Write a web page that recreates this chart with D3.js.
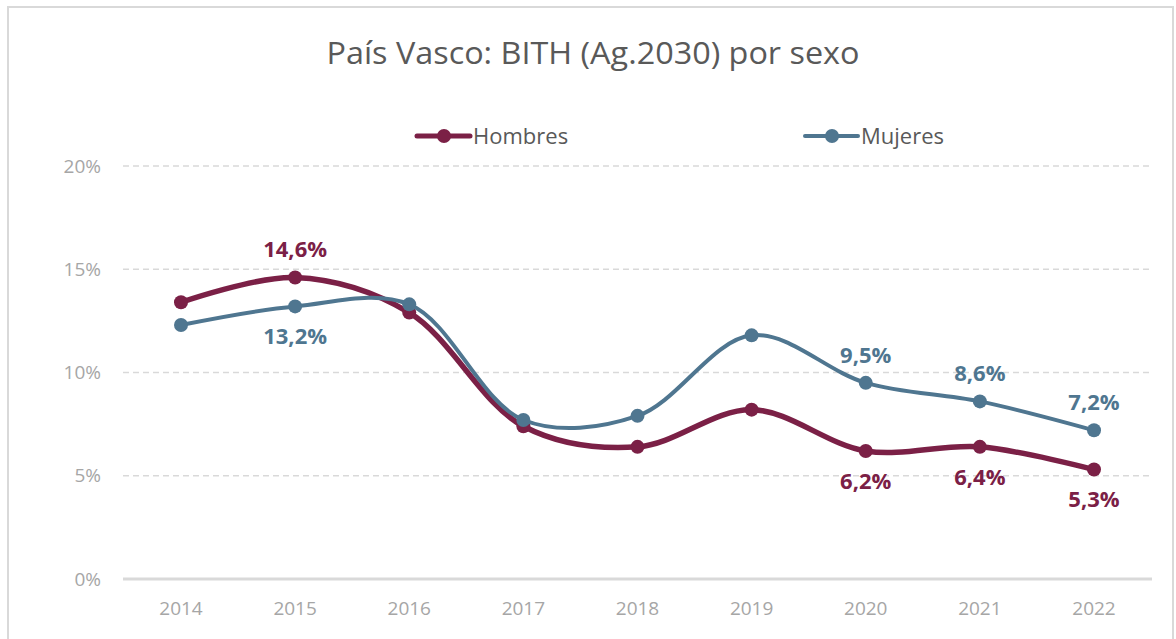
<!DOCTYPE html>
<html>
<head>
<meta charset="utf-8">
<script src="https://cdn.jsdelivr.net/npm/d3@7"></script>
<style>
  html, body { margin: 0; padding: 0; background: #fff; }
  svg { display: block; }
</style>
</head>
<body>
<script>
// datos
var years = ['2014', '2015', '2016', '2017', '2018', '2019', '2020', '2021', '2022'];
var hombres = [13.4, 14.6, 12.9, 7.4, 6.4, 8.2, 6.2, 6.4, 5.3];
var mujeres = [12.3, 13.2, 13.3, 7.7, 7.9, 11.8, 9.5, 8.6, 7.2];
var yTicks = [0, 5, 10, 15, 20];
var seriesNames = ['Hombres', 'Mujeres'];

// etiquetas visibles (indice del año, arriba / abajo)
var hombresLabels = [[1, 'up'], [6, 'down'], [7, 'down'], [8, 'down']];
var mujeresLabels = [[1, 'down'], [6, 'up'], [7, 'up'], [8, 'up']];

var W = 1176, H = 639;
var colors = { Hombres: '#7b2046', Mujeres: '#4f7690' };

var svg = d3.select(document.body).append('svg')
  .attr('width', W).attr('height', H);

// marco
svg.append('rect')
  .attr('x', 8).attr('y', 7)
  .attr('width', 1165).attr('height', 660)
  .attr('fill', 'none').attr('stroke', '#d9d9d9').attr('stroke-width', 2);

// titulo
svg.append('text')
  .attr('x', 593).attr('y', 64)
  .attr('text-anchor', 'middle')
  .style('font-family', 'Open Sans, sans-serif')
  .style('font-size', '31px')
  .attr('fill', '#595959')
  .attr('textLength', 533)
  .attr('lengthAdjust', 'spacingAndGlyphs')
  .text('País Vasco: BITH (Ag.2030) por sexo');

var x = d3.scalePoint().domain(years).range([181, 1094]);
var y = d3.scaleLinear().domain([0, 20]).range([579, 166]);

// rejilla
svg.append('g').selectAll('line').data(yTicks.filter(function(d){ return d > 0; })).enter()
  .append('line')
  .attr('x1', 123).attr('x2', 1152)
  .attr('y1', function(d){ return y(d); })
  .attr('y2', function(d){ return y(d); })
  .attr('stroke', '#d9d9d9').attr('stroke-width', 1.5)
  .attr('stroke-dasharray', '6,4');

svg.append('line')
  .attr('x1', 123).attr('x2', 1152)
  .attr('y1', y(0)).attr('y2', y(0))
  .attr('stroke', '#d9d9d9').attr('stroke-width', 3);

// eje Y
svg.append('g').selectAll('text').data(yTicks).enter()
  .append('text')
  .attr('x', 101)
  .attr('y', function(d){ return y(d); })
  .attr('dy', '0.35em')
  .attr('text-anchor', 'end')
  .style('font-family', 'Open Sans, sans-serif')
  .style('font-size', '19px')
  .attr('fill', '#a6a6a6')
  .text(function(d){ return d + '%'; });

// eje X
svg.append('g').selectAll('text').data(years).enter()
  .append('text')
  .attr('x', function(d){ return x(d); })
  .attr('y', 615)
  .attr('text-anchor', 'middle')
  .style('font-family', 'Open Sans, sans-serif')
  .style('font-size', '19px')
  .attr('fill', '#a6a6a6')
  .text(function(d){ return d; });

var line = d3.line()
  .x(function(d, i){ return x(years[i]); })
  .y(function(d){ return y(d); })
  .curve(d3.curveCatmullRom.alpha(0.5));

function drawSeries(values, name, width){
  var g = svg.append('g');
  g.append('path')
    .datum(values)
    .attr('d', line)
    .attr('fill', 'none')
    .attr('stroke', colors[name])
    .attr('stroke-width', width)
    .attr('stroke-linecap', 'round');
  g.selectAll('circle').data(values).enter()
    .append('circle')
    .attr('cx', function(d, i){ return x(years[i]); })
    .attr('cy', function(d){ return y(d); })
    .attr('r', 7)
    .attr('fill', colors[name]);
}

drawSeries(hombres, 'Hombres', 5.5);
drawSeries(mujeres, 'Mujeres', 4);

function fmt(v){ return v.toFixed(1).replace('.', ',') + '%'; }

function drawLabels(values, labels, name){
  svg.append('g').selectAll('text').data(labels).enter()
    .append('text')
    .attr('x', function(d){ return x(years[d[0]]); })
    .attr('y', function(d){ return y(values[d[0]]) + (d[1] === 'up' ? -28 : 30); })
    .attr('dy', '0.35em')
    .attr('text-anchor', 'middle')
    .style('font-family', 'Open Sans, sans-serif')
    .style('font-size', '22px')
    .style('font-weight', 'bold')
    .attr('fill', colors[name])
    .text(function(d){ return fmt(values[d[0]]); });
}

drawLabels(hombres, hombresLabels, 'Hombres');
drawLabels(mujeres, mujeresLabels, 'Mujeres');

// leyenda
var legendX = [417, 805];
var legend = svg.append('g').selectAll('g').data(seriesNames).enter()
  .append('g')
  .attr('transform', function(d, i){ return 'translate(' + legendX[i] + ',136)'; });
legend.append('line')
  .attr('x1', 0).attr('x2', 53)
  .attr('stroke', function(d){ return colors[d]; })
  .attr('stroke-width', function(d){ return d === 'Hombres' ? 5 : 4; })
  .attr('stroke-linecap', 'round');
legend.append('circle')
  .attr('cx', 27).attr('r', 7)
  .attr('fill', function(d){ return colors[d]; });
legend.append('text')
  .attr('x', 56).attr('dy', '0.35em')
  .style('font-family', 'Open Sans, sans-serif')
  .style('font-size', '22px')
  .attr('fill', '#595959')
  .text(function(d){ return d; });
</script>
</body>
</html>
